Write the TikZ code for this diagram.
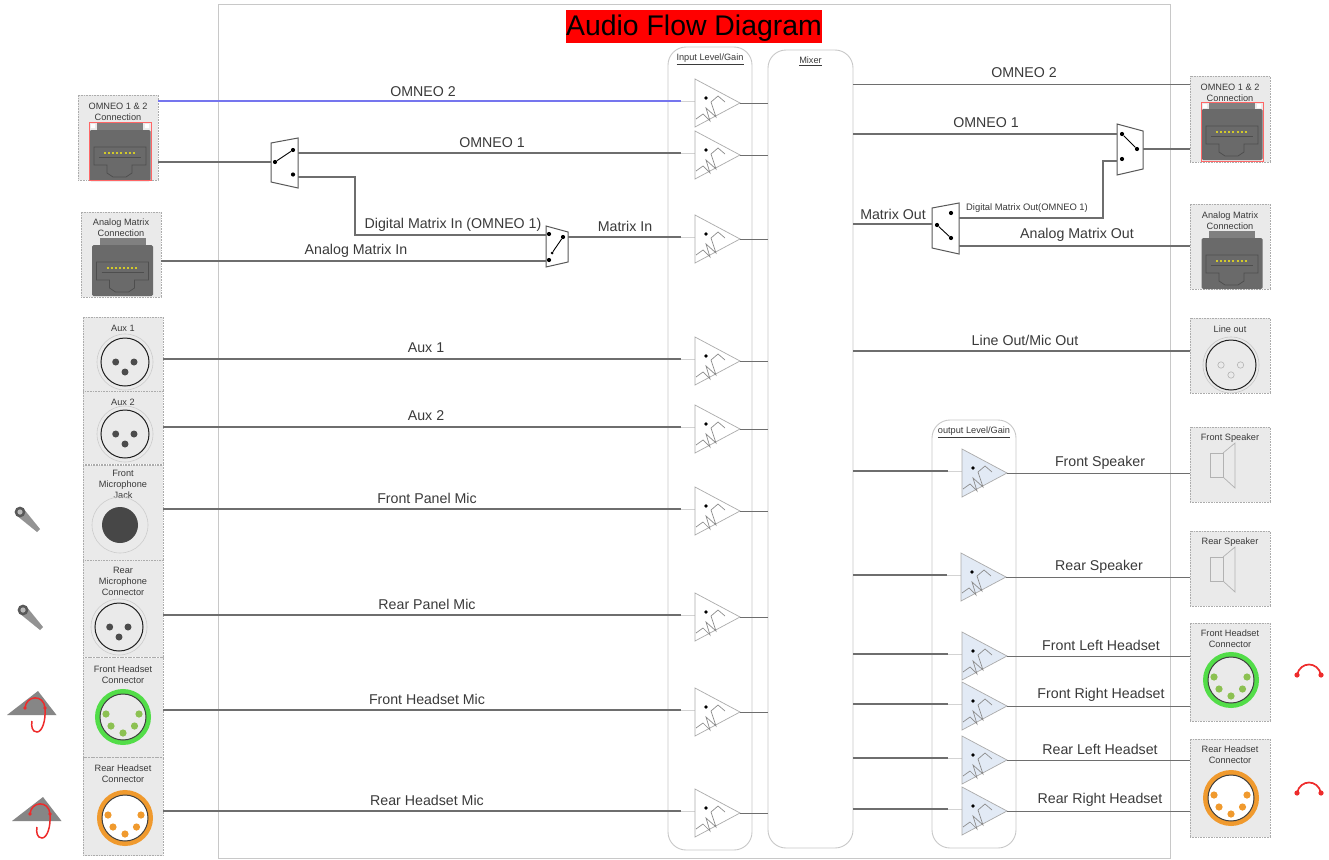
\documentclass[tikz,border=0pt]{standalone}
\usepackage{xcolor}
\usepackage{fontspec}
\setmainfont{Liberation Sans}
\usetikzlibrary{positioning}
\definecolor{wire}{HTML}{6E6E6E}
\definecolor{ombl}{HTML}{7575EE}
\definecolor{edge}{HTML}{C8C8C8}
\definecolor{panelgray}{HTML}{EAEAEA}
\definecolor{txtgray}{HTML}{3A3A3A}
\definecolor{ampblue}{HTML}{E2EAF5}
\definecolor{rjbody}{HTML}{6A6A6A}
\definecolor{rjdark}{HTML}{4E4E4E}
\definecolor{hsgreen}{HTML}{52DD48}
\definecolor{hspin}{HTML}{8CC152}
\definecolor{hsorange}{HTML}{F09A2E}
\definecolor{hsred}{HTML}{EE2B2B}

\begin{document}
\begin{tikzpicture}[x=1pt, y=-1pt,
    frame/.style={draw=edge, line width=1pt, inner sep=0pt},
    block/.style={draw=edge, line width=0.9pt, rounded corners=18pt, inner sep=0pt},
    panel/.style={draw=gray!65, densely dotted, line width=0.6pt, fill=panelgray,
                  inner sep=0pt, minimum width=80pt},
    plab/.style={font=\fontsize{9.2}{11}\selectfont, text=txtgray, align=center, inner sep=0pt},
    wlab/.style={font=\fontsize{14.2}{16}\selectfont, text=txtgray, inner sep=0pt},
    wlabs/.style={font=\fontsize{9.4}{11}\selectfont, text=txtgray, inner sep=0pt},
    wireline/.style={draw=wire, line width=1.15pt},
    swbox/.style={draw=wire!80!black, line width=1pt, fill=white},
    swdot/.style={circle, fill=black, inner sep=0pt, minimum size=4.2pt},
    pics/amp/.style={code={
        \draw[edge!80!white, line width=0.9pt] (-14,-2) -- (0,-2);
        \draw[edge!85!black, line width=0.7pt, fill=#1] (0,-24) -- (45,0) -- (0,24) -- cycle;
        \draw[edge!70!black, line width=0.7pt] (1,16) -- (8,11) -- (15,18) -- (11,5) -- (21,14)
            -- (16,-1) -- (23,-7) -- (30,-1);
        \fill[black] (11,-5) circle[radius=1.8pt];
        \coordinate (-in) at (-14,-2);
        \coordinate (-out) at (45,0.5);
    }},
    pics/amp/.default=white,
    pics/rj/.style={code={
        \fill[rjbody!85!white] (-23,0) rectangle (23,8);
        \fill[rjbody, rounded corners=1.5pt] (-30.5,7) rectangle (30.5,58);
        \draw[rjdark, line width=0.8pt] (-26,24) -- (26,24) -- (26,42) -- (12,42)
            -- (12,50) -- (6,54) -- (-7,54) -- (-13,50) -- (-13,42) -- (-26,42) -- cycle;
        \draw[rjdark, line width=0.6pt] (-21,34) -- (21,34);
        \draw[yellow!80!black, line width=2.6pt, dash pattern=on 2pt off 2.1pt] (-16,30) -- (16,30);
    }},
    pics/xlr/.style={code={
        \draw[gray!40, line width=0.6pt] (0,0) circle[radius=28pt];
        \draw[gray!25!black, line width=1pt] (0,0) circle[radius=24pt];
        \fill[#1] (-9.3,0) circle[radius=3.5pt] (9,0) circle[radius=3.5pt] (0,10) circle[radius=3.5pt];
    }},
    pics/xlr/.default=black!70,
    pics/xlrout/.style={code={
        \draw[gray!45, line width=0.6pt] (0,0) circle[radius=28pt];
        \draw[gray!25!black, line width=1pt] (0,0) circle[radius=25pt];
        \draw[gray!60, line width=0.6pt] (-10,0) circle[radius=3.2pt] (9.5,0) circle[radius=3.2pt] (0,10) circle[radius=3.2pt];
    }},
    pics/hs/.style n args={3}{code={
        \draw[#1, line width=5pt, fill=#3] (0,0) circle[radius=25.5pt];
        \draw[black!75, line width=1pt] (0,0) circle[radius=23pt];
        \fill[#2] (-17,-3) circle[radius=3.6pt] (16,-3) circle[radius=3.6pt] (-12,9) circle[radius=3.6pt]
            (11.5,9) circle[radius=3.6pt] (0,16) circle[radius=3.6pt];
    }},
    pics/spk/.style={code={
        \draw[gray!60, line width=0.7pt] (0,-12) rectangle (13,12);
        \draw[gray!60, line width=0.7pt] (13,-12) -- (25,-22) -- (25,23) -- (13,12);
    }},
    pics/mic/.style={code={
        \fill[gray!85] (-4,3) -- (17,20) -- (20,17) -- (3,-4) -- cycle;
        \fill[black!65] (0,0) circle[radius=5.4pt];
        \fill[gray!55] (0,0) circle[radius=2.6pt];
    }},
    pics/head/.style={code={
        \fill[gray!95] (0,0) -- (18.5,24) -- (-31,24) -- cycle;
        \draw[hsred, line width=1.5pt] (-13,17) .. controls (-12,4) and (6,3) .. (7,17)
            .. controls (8,30) and (4,41) .. (-1,41) .. controls (-6,41) and (-7,35) .. (-6,30);
        \fill[hsred] (-13,17) circle[radius=1.9pt] (7,17) circle[radius=1.9pt];
    }},
    pics/phones/.style={code={
        \draw[hsred, line width=1.7pt] (-12,0) .. controls (-9,-14) and (9,-14) .. (12,0);
        \fill[hsred] (-12,0) circle[radius=2.6pt] (12,0) circle[radius=2.6pt];
    }},
]
\useasboundingbox (0,0) rectangle (1329,859);
\fill[white] (0,0) rectangle (1329,859);

% frame and title
\node[frame, minimum width=952pt, minimum height=853pt] (outer) at (694,431.5) {};
\node[fill=red, minimum width=254pt, minimum height=33pt, inner sep=0pt, font=\fontsize{28.4}{30}\selectfont] (title) at (694,26.5) {\raisebox{-2pt}[\height][\depth]{Audio Flow Diagram}};

% level and mixer blocks
\node[block, minimum width=84pt, minimum height=803pt] (inlevel) at (710,448.5) {};
\node[block, minimum width=85pt, minimum height=798pt] (mixer) at (810.5,449) {};
\node[block, minimum width=84pt, minimum height=428pt] (outlevel) at (974,634) {};
\node[plab, below=7pt of inlevel.north] (inleveltxt) {\underline{Input Level/Gain}};
\node[plab, below=7pt of mixer.north] (mixertxt) {\underline{Mixer}};
\node[plab, below=7pt of outlevel.north] (outleveltxt) {\underline{output Level/Gain}};

% left panels
\node[panel, minimum height=85pt] (omneoL) at (118,137.5) {};
\node[panel, minimum height=85pt] (analogL) at (121,254.5) {};
\node[panel, minimum height=74pt] (auxa) at (123,354) {};
\node[panel, minimum height=73pt] (auxb) at (123,427.5) {};
\node[panel, minimum height=95pt] (fmic) at (123,512.5) {};
\node[panel, minimum height=97pt] (rmic) at (123,608.5) {};
\node[panel, minimum height=100pt] (fhs) at (123,707.5) {};
\node[panel, minimum height=98pt] (rhs) at (123,806.5) {};
\node[plab, below=8.5pt of omneoL.north] (omneoLtxt) {OMNEO 1 \& 2\\Connection};
\node[plab, below=7pt of analogL.north] (analogLtxt) {Analog Matrix\\Connection};
\node[plab, below=8pt of auxa.north] (auxatxt) {Aux 1};
\node[plab, below=8pt of auxb.north] (auxbtxt) {Aux 2};
\node[plab, below=5pt of fmic.north] (fmictxt) {Front\\Microphone\\Jack};
\node[plab, below=7.5pt of rmic.north] (rmictxt) {Rear\\Microphone\\Connector};
\node[plab, below=8.5pt of fhs.north] (fhstxt) {Front Headset\\Connector};
\node[plab, below=7.5pt of rhs.north] (rhstxt) {Rear Headset\\Connector};

% right panels
\node[panel, minimum height=86pt] (omneoR) at (1230,119) {};
\node[panel, minimum height=85pt] (analogR) at (1230,246.5) {};
\node[panel, minimum height=75pt] (lineout) at (1230,355.5) {};
\node[panel, minimum height=75pt] (fspk) at (1230,464.5) {};
\node[panel, minimum height=75pt] (rspk) at (1230,568.5) {};
\node[panel, minimum height=98pt] (fhsR) at (1230,672) {};
\node[panel, minimum height=98pt] (rhsR) at (1230,788) {};
\node[plab, below=8pt of omneoR.north] (omneoRtxt) {OMNEO 1 \& 2\\Connection};
\node[plab, below=7.5pt of analogR.north] (analogRtxt) {Analog Matrix\\Connection};
\node[plab, below=8pt of lineout.north] (lineouttxt) {Line out};
\node[plab, below=7pt of fspk.north] (fspktxt) {Front Speaker};
\node[plab, below=7pt of rspk.north] (rspktxt) {Rear Speaker};
\node[plab, below=7pt of fhsR.north] (fhsRtxt) {Front Headset\\Connector};
\node[plab, below=7pt of rhsR.north] (rhsRtxt) {Rear Headset\\Connector};

% connectors and icons in the panels
\pic at (120,123) {rj};
\draw[red!60, line width=0.8pt] (89,122) rectangle (151,180);
\fill[white] (91,124) rectangle (95,128) (145,124) rectangle (149,128);
\pic at (122.5,238) {rj};
\pic at (125,362) {xlr};
\pic at (125,434) {xlr};
\draw[gray!40, line width=0.6pt] (120,525) circle[radius=28pt];
\fill[black!72] (120,525) circle[radius=18pt];
\pic at (119,627) {xlr};
\pic at (123,717) {hs={hsgreen}{hspin}{panelgray}};
\pic at (125,818) {hs={hsorange}{hsorange}{white}};
\pic at (1232,102) {rj};
\draw[red!60, line width=0.8pt] (1201,102) rectangle (1263,161);
\fill[white] (1203,104) rectangle (1207,108) (1257,104) rectangle (1261,108);
\pic at (1232,231) {rj};
\pic at (1231,365) {xlrout};
\pic at (1210,465) {spk};
\pic at (1210,569) {spk};
\pic at (1231,680) {hs={hsgreen}{hspin}{panelgray}};
\pic at (1231,798) {hs={hsorange}{hsorange}{white}};

% things outside the frame
\pic at (20,512) {mic};
\pic at (23,610) {mic};
\pic at (38,691) {head};
\pic at (43,797) {head};
\pic at (1309,675) {phones};
\pic at (1309,793) {phones};

% input amps
\pic (ampomb) at (695,103) {amp};
\pic (ampoma) at (695,155) {amp};
\pic (ampmx) at (695,239) {amp};
\pic (ampauxa) at (695,361) {amp};
\pic (ampauxb) at (695,429) {amp};
\pic (ampfmic) at (695,511) {amp};
\pic (amprmic) at (695,617) {amp};
\pic (ampfhs) at (695,712) {amp};
\pic (amprhs) at (695,813) {amp};

% output amps
\pic (ampfspk) at (962,473) {amp=ampblue};
\pic (amprspk) at (961,577) {amp=ampblue};
\pic (ampfl) at (962,656) {amp=ampblue};
\pic (ampfr) at (962,706) {amp=ampblue};
\pic (amprl) at (962,760) {amp=ampblue};
\pic (amprr) at (962,811) {amp=ampblue};

% input switches
\draw[swbox] (271,143) -- (298,138) -- (298,188) -- (271,182) -- cycle;
\coordinate (swain) at (271,162);
\coordinate (swaa) at (298,153);
\coordinate (swab) at (298,177);
\node[swdot] (swac) at (275,162) {};
\node[swdot] (swat) at (293,150) {};
\node[swdot] (swau) at (293,174.5) {};
\draw[black, line width=0.9pt] (swac) -- (swat);
\draw[swbox] (546,226) -- (568,232) -- (568,262) -- (546,267) -- cycle;
\coordinate (swbina) at (546,235);
\coordinate (swbinb) at (546,261);
\coordinate (swbout) at (568,237);
\node[swdot] (swbt) at (549,234) {};
\node[swdot] (swbu) at (549,260) {};
\node[swdot] (swbc) at (563,237) {};
\node[swdot, minimum size=3pt] (swbm) at (552,253) {};
\draw[black, line width=0.9pt] (swbc) -- (swbm);

% output switches
\draw[swbox] (1117,124) -- (1143,131) -- (1143,169) -- (1117,175) -- cycle;
\coordinate (swcina) at (1117,134);
\coordinate (swcinb) at (1117,161);
\coordinate (swcout) at (1143,149);
\node[swdot] (swct) at (1122,134) {};
\node[swdot] (swcu) at (1122,159) {};
\node[swdot] (swcc) at (1137,149) {};
\draw[black, line width=0.9pt] (swcc) -- (swct);
\draw[swbox] (932,208) -- (959,203) -- (959,254) -- (932,248) -- cycle;
\coordinate (swdin) at (932,224);
\coordinate (swdouta) at (959,218);
\coordinate (swdoutb) at (959,246);
\node[swdot] (swdt) at (951,213) {};
\node[swdot] (swdu) at (951,238) {};
\node[swdot] (swdc) at (937,225) {};
\draw[black, line width=0.9pt] (swdc) -- (swdu);

% left wires
\draw[draw=ombl, line width=1.15pt] (omneoL.east |- ampomb-in) -- (ampomb-in);
\draw[wireline] (omneoL.east |- swain) -- (swain);
\draw[wireline] (swaa) -- (ampoma-in);
\draw[wireline] (swab) -| (355,235) -- (swbina);
\draw[wireline] (analogL.east |- swbinb) -- (swbinb);
\draw[wireline] (swbout) -- (ampmx-in);
\draw[wireline] (auxa.east |- ampauxa-in) -- (ampauxa-in);
\draw[wireline] (auxb.east |- ampauxb-in) -- (ampauxb-in);
\draw[wireline] (fmic.east |- ampfmic-in) -- (ampfmic-in);
\draw[wireline] (rmic.east |- amprmic-in) -- (amprmic-in);
\draw[wireline] (fhs.east |- ampfhs-in) -- (ampfhs-in);
\draw[wireline] (rhs.east |- amprhs-in) -- (amprhs-in);

% amps to mixer
\draw[wireline] (ampomb-out) -- (mixer.west |- ampomb-out);
\draw[wireline] (ampoma-out) -- (mixer.west |- ampoma-out);
\draw[wireline] (ampmx-out) -- (mixer.west |- ampmx-out);
\draw[wireline] (ampauxa-out) -- (mixer.west |- ampauxa-out);
\draw[wireline] (ampauxb-out) -- (mixer.west |- ampauxb-out);
\draw[wireline] (ampfmic-out) -- (mixer.west |- ampfmic-out);
\draw[wireline] (amprmic-out) -- (mixer.west |- amprmic-out);
\draw[wireline] (ampfhs-out) -- (mixer.west |- ampfhs-out);
\draw[wireline] (amprhs-out) -- (mixer.west |- amprhs-out);

% right wires
\coordinate (omboutc) at (mixer.east |- 0,84.5);
\coordinate (loutc) at (mixer.east |- 0,351);
\draw[wireline] (omboutc) -- (omneoR.west |- omboutc);
\draw[wireline] (mixer.east |- swcina) -- (swcina);
\draw[wireline] (swcout) -- (omneoR.west |- swcout);
\draw[wireline] (mixer.east |- swdin) -- (swdin);
\draw[wireline] (swdouta) -| (1103,161) -- (swcinb);
\draw[wireline] (swdoutb) -- (analogR.west |- swdoutb);
\draw[wireline] (loutc) -- (lineout.west |- loutc);
\draw[wireline] (mixer.east |- ampfspk-in) -- (ampfspk-in);
\draw[wireline] (mixer.east |- amprspk-in) -- (amprspk-in);
\draw[wireline] (mixer.east |- ampfl-in) -- (ampfl-in);
\draw[wireline] (mixer.east |- ampfr-in) -- (ampfr-in);
\draw[wireline] (mixer.east |- amprl-in) -- (amprl-in);
\draw[wireline] (mixer.east |- amprr-in) -- (amprr-in);
\draw[wireline] (ampfspk-out) -- (fspk.west |- ampfspk-out);
\draw[wireline] (amprspk-out) -- (rspk.west |- amprspk-out);
\draw[wireline] (ampfl-out) -- (fhsR.west |- ampfl-out);
\draw[wireline] (ampfr-out) -- (fhsR.west |- ampfr-out);
\draw[wireline] (amprl-out) -- (rhsR.west |- amprl-out);
\draw[wireline] (amprr-out) -- (rhsR.west |- amprr-out);

% wire labels
\node[wlab] (lomb) at (423,92) {OMNEO 2};
\node[wlab] (loma) at (492,143) {OMNEO 1};
\node[wlab] (ldmi) at (453,225) {Digital Matrix In (OMNEO 1)};
\node[wlab] (lmi) at (625,226) {Matrix In};
\node[wlab] (lami) at (356,251) {Analog Matrix In};
\node[wlab] (lauxa) at (426,348) {Aux 1};
\node[wlab] (lauxb) at (426,416) {Aux 2};
\node[wlab] (lfpm) at (427,498) {Front Panel Mic};
\node[wlab] (lrpm) at (427,604) {Rear Panel Mic};
\node[wlab] (lfhm) at (427,699) {Front Headset Mic};
\node[wlab] (lrhm) at (427,800) {Rear Headset Mic};
\node[wlab] (romb) at (1024,73) {OMNEO 2};
\node[wlab] (roma) at (986,123) {OMNEO 1};
\node[wlab] (rmo) at (893,214) {Matrix Out};
\node[wlabs] (rdmo) at (1027,208) {Digital Matrix Out(OMNEO 1)};
\node[wlab] (ramo) at (1077,235) {Analog Matrix Out};
\node[wlab] (rlo) at (1025,340) {Line Out/Mic Out};
\node[wlab] (rfs) at (1100,463) {Front Speaker};
\node[wlab] (rrs) at (1099,567) {Rear Speaker};
\node[wlab] (rfl) at (1101,645) {Front Left Headset};
\node[wlab] (rfr) at (1101,695) {Front Right Headset};
\node[wlab] (rrl) at (1100,749) {Rear Left Headset};
\node[wlab] (rrr) at (1100,800) {Rear Right Headset};
\end{tikzpicture}
\end{document}
